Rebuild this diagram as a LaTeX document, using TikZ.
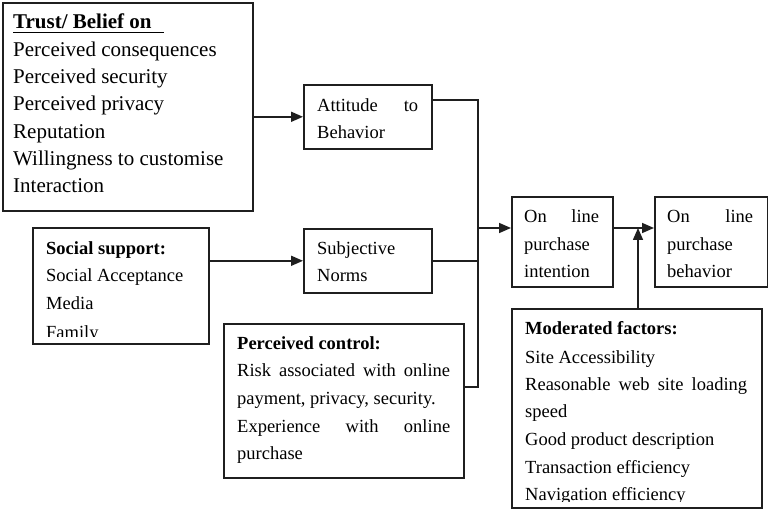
\documentclass[tikz,border=0pt]{standalone}
\usepackage{fontspec}
\setmainfont{Liberation Serif}
\usetikzlibrary{arrows.meta,calc}
\begin{document}
\begin{tikzpicture}[x=1pt,y=-1pt,
  box/.style={draw=black!88, line width=1.6pt, inner sep=0pt, anchor=north west, fill=none},
  txt/.style={anchor=base west, inner sep=0pt, font=\fontsize{18.5}{27.5}\selectfont},
  bigtxt/.style={anchor=base west, inner sep=0pt, font=\fontsize{21}{27.5}\selectfont},
  link/.style={draw=black!88, line width=1.6pt},
  arr/.style={link, -{Triangle[length=12pt,width=10pt]}}]
\useasboundingbox (0,0) rectangle (768,510);

% boxes
\node[box, minimum width=250pt, minimum height=208pt] (trust) at (2,2) {};
\node[box, minimum width=128pt, minimum height=64pt] (att) at (303,84) {};
\node[box, minimum width=128pt, minimum height=64pt] (sub) at (303,228) {};
\node[box, minimum width=101pt, minimum height=90pt] (int) at (511,196) {};
\node[box, minimum width=113pt, minimum height=90pt] (beh) at (654,196) {};
\node[box, minimum width=176pt, minimum height=116pt] (soc) at (32,227) {};
\node[box, minimum width=240pt, minimum height=154pt] (pc) at (223,323) {};
\node[box, minimum width=250pt, minimum height=199pt] (mod) at (511,308) {};

% trust text
\node[bigtxt, font=\fontsize{21}{27.5}\selectfont\bfseries] (t0) at (13,29) {Trust/ Belief on};
\draw[line width=1.2pt] (13,32.5) -- (164,32.5);
\node[bigtxt] (t1) at (13,57) {Perceived consequences};
\node[bigtxt] (t2) at (13,84) {Perceived security};
\node[bigtxt] (t3) at (13,111) {Perceived privacy};
\node[bigtxt] (t4) at (13,138.5) {Reputation};
\node[bigtxt] (t5) at (13,166) {Willingness to customise};
\node[bigtxt] (t6) at (13,193) {Interaction};

% attitude / subjective
\node[txt] (a1) at (317,112) {\makebox[101pt][s]{Attitude to}};
\node[txt] (a2) at (317,139) {Behavior};
\node[txt] (s1) at (317,255) {Subjective};
\node[txt] (s2) at (317,282) {Norms};

% intention / behavior
\node[txt] (i1) at (524,223) {\makebox[75pt][s]{On line}};
\node[txt] (i2) at (524,251) {purchase};
\node[txt] (i3) at (524,278) {intention};
\node[txt] (b1) at (667,223) {\makebox[86pt][s]{On line}};
\node[txt] (b2) at (667,251) {purchase};
\node[txt] (b3) at (667,278) {behavior};

% social support
\begin{scope}
\clip (32,227) rectangle (208,336.5);
\node[txt, font=\fontsize{18.5}{27.5}\selectfont\bfseries] (so0) at (46,255) {Social support:};
\node[txt] (so1) at (46,282) {Social Acceptance};
\node[txt] (so2) at (46,310) {Media};
\node[txt] (so3) at (46,338) {Family};
\end{scope}

% perceived control
\node[txt, font=\fontsize{18.5}{27.5}\selectfont\bfseries] (p0) at (237,350) {Perceived control:};
\node[txt] (p1) at (237,377) {\makebox[213pt][s]{Risk associated with online}};
\node[txt] (p2) at (237,404) {payment, privacy, security.};
\node[txt] (p3) at (237,432) {\makebox[213pt][s]{Experience with online}};
\node[txt] (p4) at (237,459) {purchase};

% moderated factors
\begin{scope}
\clip (511,308) rectangle (761,501);
\node[txt, font=\fontsize{18.5}{27.5}\selectfont\bfseries] (m0) at (525,335) {Moderated factors:};
\node[txt] (m1) at (525,363) {Site Accessibility};
\node[txt] (m2) at (525,390) {\makebox[222pt][s]{Reasonable web site loading}};
\node[txt] (m3) at (525,417) {speed};
\node[txt] (m4) at (525,445) {Good product description};
\node[txt] (m5) at (525,473) {Transaction efficiency};
\node[txt] (m6) at (525,500) {Navigation efficiency};
\end{scope}

% junction coordinates
\coordinate (j1) at (478,100);
\coordinate (jin) at (478,228);
\coordinate (j3) at (478,387);
\coordinate (jm) at (638,228);

% connectors
\draw[arr] (trust.east |- att.west) -- (att.west);
\draw[arr] (soc.east |- sub.west) -- (sub.west);
\draw[link] (att.east |- j1) -- (j1) -- (j3) -- (pc.east |- j3);
\draw[link] (sub.east) -- (sub.east -| j1);
\draw[arr] (jin) -- (int.west |- jin);
\draw[arr] (int.east |- jin) -- (beh.west |- jin);
\draw[arr] (mod.north -| jm) -- (jm);
\end{tikzpicture}
\end{document}
